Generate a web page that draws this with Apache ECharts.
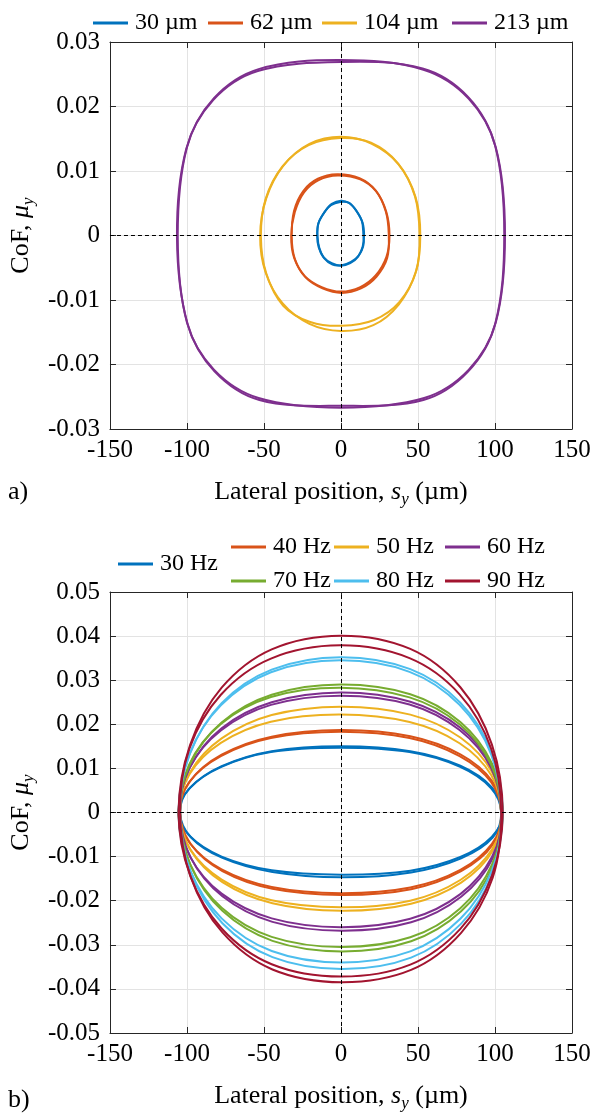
<!DOCTYPE html>
<html>
<head>
<meta charset="utf-8">
<script src="https://cdn.jsdelivr.net/npm/echarts@6/dist/echarts.min.js"></script>
<style>
html,body{margin:0;padding:0;background:#fff;}
#c{width:599px;height:1113px;}
</style>
</head>
<body>
<div id="c"></div>
<script>
// ---------- DATA ----------
const colors = ['#0072BD','#D95319','#EDB120','#7E2F8E','#77AC30','#4DBEEE','#A2142F'];
const xTicks = [-150,-100,-50,0,50,100,150];

// (a) amplitude loops: [s_y (µm), CoF]
const ampNames = ['30 µm','62 µm','104 µm','213 µm'];
const amp30_t1 = [[15,0],[14,0.0020],[10,0.0038],[5.5,0.0050],[0,0.0054],[-6,0.0049],[-10.5,0.0037],[-14.5,0.0020],[-15.5,0],[-14.5,-0.0018],[-11.5,-0.0033],[-6,-0.0043],[0,-0.0047],[6,-0.0043],[11,-0.0033],[14,-0.0018]];
const amp30_t2 = [[14.5,0.0002],[13.6,0.0022],[9.5,0.0040],[5,0.0051],[-0.5,0.0052],[-6.5,0.0047],[-11,0.0035],[-14.8,0.0018],[-15.2,-0.0002],[-14,-0.0020],[-11,-0.0035],[-5.5,-0.0045],[0.5,-0.0046],[6.5,-0.0041],[11.5,-0.0031],[14.5,-0.0016]];
const amp62_t1 = [[31.5,0],[29.5,0.0036],[23,0.0068],[12.5,0.0087],[-2,0.0093],[-14.5,0.0086],[-24,0.0067],[-30,0.0036],[-32.3,0],[-30.5,-0.0034],[-23.5,-0.0063],[-12.5,-0.0080],[0,-0.0087],[12.5,-0.0080],[22.5,-0.0062],[29.5,-0.0033]];
const amp62_t2 = [[31,0.0003],[29,0.0038],[22.5,0.0070],[12,0.0089],[-2.5,0.0095],[-15,0.0088],[-24.5,0.0069],[-30.5,0.0038],[-32,-0.0002],[-30,-0.0036],[-23,-0.0065],[-12,-0.0082],[0.5,-0.0089],[13,-0.0082],[23,-0.0064],[30,-0.0035]];
const amp104_t1 = [[51.5,0],[48.5,0.0059],[37.5,0.0110],[20,0.0142],[0,0.0153],[-20.5,0.0142],[-37.5,0.0108],[-48.5,0.0058],[-52.5,0],[-49,-0.0057],[-38,-0.0105],[-20.5,-0.0137],[0,-0.0148],[21,-0.0139],[37.5,-0.0107],[48.5,-0.0057]];
const amp104_t2 = [[51,0.0002],[48,0.0061],[37,0.0112],[19.5,0.0144],[-0.5,0.0151],[-21,0.0140],[-38,0.0107],[-49,0.0056],[-52,-0.0002],[-48.5,-0.0059],[-37.5,-0.0109],[-20,-0.0134],[0.5,-0.0140],[21.5,-0.0131],[38,-0.0103],[49,-0.0054]];
const amp213_t1 = [[106.5,0],[100.5,0.0137],[83,0.0212],[53.5,0.0257],[0,0.0272],[-53.5,0.0258],[-82.5,0.0213],[-100,0.0137],[-106,0],[-100,-0.0135],[-82.5,-0.0208],[-53.5,-0.0252],[0,-0.0267],[54,-0.0252],[83,-0.0208],[100.5,-0.0135]];
const amp213_t2 = [[106,0.0003],[100,0.0140],[82.5,0.0215],[53,0.0259],[0,0.0269],[-54,0.0255],[-83,0.0210],[-100.5,0.0134],[-106.5,-0.0003],[-99.5,-0.0138],[-82,-0.0211],[-53,-0.0255],[0,-0.0264],[53.5,-0.0255],[82.5,-0.0211],[100,-0.0138]];
const ampTraces = [[amp30_t1,amp30_t2],[amp62_t1,amp62_t2],[amp104_t1,amp104_t2],[amp213_t1,amp213_t2]];

// (b) frequency loops: shared s_y sample positions, CoF per trace
const freqNames = ['30 Hz','40 Hz','50 Hz','60 Hz','70 Hz','80 Hz','90 Hz'];
const freqX1 = [105,98,77.5,45,0,-45,-77.5,-98,-105.5,-98,-77.5,-45,0,45,77.5,98];
const freqX2 = [104,97.5,77,44.5,-0.5,-45.5,-78,-98.5,-104.5,-97.5,-77,-44.5,0.5,45.5,78,98.5];
const f30_t1 = [0,0.0057,0.0106,0.0139,0.0150,0.0139,0.0105,0.0056,0,-0.0054,-0.0100,-0.0131,-0.0141,-0.0132,-0.0101,-0.0055];
const f30_t2 = [0,0.0055,0.0104,0.0137,0.0147,0.0137,0.0103,0.0054,0,-0.0056,-0.0103,-0.0135,-0.0147,-0.0136,-0.0104,-0.0057];
const f40_t1 = [0,0.0072,0.0132,0.0173,0.0187,0.0172,0.0131,0.0071,0,-0.0070,-0.0129,-0.0169,-0.0183,-0.0170,-0.0130,-0.0071];
const f40_t2 = [0,0.0069,0.0128,0.0169,0.0183,0.0169,0.0128,0.0069,0,-0.0072,-0.0133,-0.0173,-0.0187,-0.0174,-0.0133,-0.0073];
const f50_t1 = [0,0.0092,0.0170,0.0222,0.0240,0.0221,0.0168,0.0091,0,-0.0083,-0.0152,-0.0199,-0.0215,-0.0200,-0.0153,-0.0084];
const f50_t2 = [0,0.0085,0.0157,0.0205,0.0222,0.0206,0.0158,0.0086,0,-0.0086,-0.0158,-0.0206,-0.0223,-0.0207,-0.0159,-0.0087];
const f60_t1 = [0,0.0104,0.0192,0.0251,0.0272,0.0250,0.0191,0.0103,0,-0.0100,-0.0184,-0.0240,-0.0260,-0.0241,-0.0185,-0.0101];
const f60_t2 = [0,0.0101,0.0187,0.0245,0.0265,0.0244,0.0186,0.0100,0,-0.0103,-0.0190,-0.0248,-0.0268,-0.0249,-0.0191,-0.0104];
const f70_t1 = [0,0.0111,0.0205,0.0268,0.0290,0.0267,0.0204,0.0110,0,-0.0117,-0.0216,-0.0282,-0.0305,-0.0283,-0.0217,-0.0118];
const f70_t2 = [0,0.0108,0.0200,0.0261,0.0283,0.0262,0.0201,0.0109,0,-0.0121,-0.0223,-0.0291,-0.0315,-0.0292,-0.0224,-0.0122];
const f80_t1 = [0,0.0135,0.0249,0.0325,0.0352,0.0324,0.0248,0.0134,0,-0.0130,-0.0240,-0.0314,-0.0340,-0.0315,-0.0241,-0.0131];
const f80_t2 = [0,0.0132,0.0244,0.0319,0.0345,0.0318,0.0243,0.0131,0,-0.0136,-0.0251,-0.0328,-0.0355,-0.0329,-0.0252,-0.0137];
const f90_t1 = [0,0.0154,0.0284,0.0371,0.0401,0.0370,0.0283,0.0153,0,-0.0142,-0.0263,-0.0344,-0.0372,-0.0345,-0.0264,-0.0143];
const f90_t2 = [0,0.0145,0.0268,0.0350,0.0379,0.0349,0.0267,0.0144,0,-0.0147,-0.0272,-0.0356,-0.0385,-0.0357,-0.0273,-0.0148];
const freqTraces = [[f30_t1,f30_t2],[f40_t1,f40_t2],[f50_t1,f50_t2],[f60_t1,f60_t2],[f70_t1,f70_t2],[f80_t1,f80_t2],[f90_t1,f90_t2]];

// ---------- BUILD ----------
const FONT = 'Liberation Serif';
const TICK_FS = 25, NAME_FS = 26, LEG_FS = 24;
const axisCol = '#262626';

// closed smooth loop drawn through the cartesian coordinate system
function loopSeries(name, color, pts, axisIdx){
  return {
    type:'custom', name:name, coordinateSystem:'cartesian2d',
    xAxisIndex:axisIdx, yAxisIndex:axisIdx, data:pts, z:2, silent:true, animation:false,
    itemStyle:{color:color},
    renderItem:(params, api) => {
      if (params.dataIndex !== 0) return null;
      const p = pts.map(d => api.coord(d));
      return {type:'polygon', shape:{points:p, smooth:0.35},
        style:{fill:null, stroke:color, lineWidth:2}};
    }
  };
}

const series = [];
ampTraces.forEach((tr, i) => {
  tr.forEach(pts => series.push(loopSeries(ampNames[i], colors[i], pts, 0)));
});
freqTraces.forEach((tr, i) => {
  [freqX1, freqX2].forEach((xs, k) => {
    const pts = xs.map((x, j) => [x, tr[k][j]]);
    series.push(loopSeries(freqNames[i], colors[i], pts, 2));
  });
});
// dashed zero lines
[0,2].forEach(ai => series.push({
  type:'line', xAxisIndex:ai, yAxisIndex:ai, data:[], z:10, silent:true, animation:false,
  markLine:{silent:true, symbol:'none', animation:false, label:{show:false},
    lineStyle:{color:'#000', width:1, type:[4,3]},
    data:[{xAxis:0},{yAxis:0}]}
}));

const richName = {
  n:{fontFamily:FONT, fontSize:NAME_FS, color:'#000', lineHeight:32},
  i:{fontFamily:FONT, fontSize:NAME_FS, color:'#000', fontStyle:'italic', lineHeight:32},
  sub:{fontFamily:FONT, fontSize:17, color:'#000', fontStyle:'italic', lineHeight:17, verticalAlign:'bottom'}
};

function xAxes(grid){
  return [{
    gridIndex:grid, type:'value', min:-150, max:150, interval:50, position:'bottom',
    axisLine:{show:true, onZero:false, lineStyle:{color:axisCol, width:1}},
    axisTick:{show:true, inside:true, length:6, lineStyle:{color:axisCol}},
    splitLine:{show:true, lineStyle:{color:'#e3e3e3', width:1}},
    axisLabel:{fontFamily:FONT, fontSize:TICK_FS, color:'#000', margin:9},
    name:'{n|Lateral position, }{i|s}{sub|y}{n| (µm)}', nameLocation:'middle', nameGap:47,
    nameTextStyle:{rich:richName}
  },{
    gridIndex:grid, type:'value', min:-150, max:150, interval:50, position:'top',
    axisLine:{show:true, onZero:false, lineStyle:{color:axisCol, width:1}},
    axisTick:{show:true, inside:true, length:6, lineStyle:{color:axisCol}},
    splitLine:{show:false}, axisLabel:{show:false}
  }];
}
function yAxes(grid, lim){
  return [{
    gridIndex:grid, type:'value', min:-lim, max:lim, interval:0.01, position:'left',
    axisLine:{show:true, onZero:false, lineStyle:{color:axisCol, width:1}},
    axisTick:{show:true, inside:true, length:6, lineStyle:{color:axisCol}},
    splitLine:{show:true, lineStyle:{color:'#e3e3e3', width:1}},
    axisLabel:{fontFamily:FONT, fontSize:TICK_FS, color:'#000', margin:10,
      formatter: v => Math.abs(v) < 1e-9 ? '0' : v.toFixed(2)},
    name:'{n|CoF, }{i|μ}{sub|y}', nameLocation:'middle', nameGap:72, nameRotate:90,
    nameTextStyle:{rich:richName}
  },{
    gridIndex:grid, type:'value', min:-lim, max:lim, interval:0.01, position:'right',
    axisLine:{show:true, onZero:false, lineStyle:{color:axisCol, width:1}},
    axisTick:{show:true, inside:true, length:6, lineStyle:{color:axisCol}},
    splitLine:{show:false}, axisLabel:{show:false}
  }];
}

function leg(name, left, cy){
  return {
    data:[name], left:left, top:cy-13, padding:0, itemGap:0, itemWidth:35, itemHeight:3,
    icon:'rect', selectedMode:false, itemStyle:{borderWidth:0},
    textStyle:{fontFamily:FONT, fontSize:LEG_FS, color:'#000', padding:[0,0,0,2], lineHeight:26}
  };
}
const legends = [
  leg(ampNames[0], 93, 23), leg(ampNames[1], 208, 23), leg(ampNames[2], 322, 23), leg(ampNames[3], 452, 23),
  leg(freqNames[0], 118, 564),
  leg(freqNames[1], 231, 547), leg(freqNames[2], 334, 547), leg(freqNames[3], 445, 547),
  leg(freqNames[4], 231, 581), leg(freqNames[5], 334, 581), leg(freqNames[6], 445, 581)
];

const chart = echarts.init(document.getElementById('c'), null, {renderer:'canvas'});
chart.setOption({
  backgroundColor:'#fff',
  animation:false,
  grid:[
    {left:108, top:42, width:464, height:387, containLabel:false},
    {left:108, top:592, width:464, height:451, containLabel:false}
  ],
  xAxis: xAxes(0).concat(xAxes(1)),
  yAxis: yAxes(0, 0.03).concat(yAxes(1, 0.05)),
  legend: legends,
  graphic:[
    {type:'text', left:8, top:479, style:{text:'a)', fontFamily:FONT, fontSize:NAME_FS, fill:'#000'}},
    {type:'text', left:8, top:1087, style:{text:'b)', fontFamily:FONT, fontSize:NAME_FS, fill:'#000'}}
  ],
  series: series
});
</script>
</body>
</html>
